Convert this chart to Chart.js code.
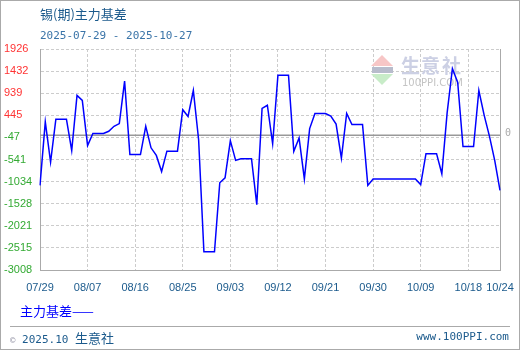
<!DOCTYPE html>
<html>
<head>
<meta charset="utf-8">
<script src="https://cdn.jsdelivr.net/npm/chart.js@4/dist/chart.umd.min.js"></script>
<style>
  html, body { margin: 0; padding: 0; background: #fff; }
  #wrap { position: relative; width: 520px; height: 350px; overflow: hidden; }
  #wrap canvas { position: absolute; left: 0; top: 0; }
  .txt { position: absolute; white-space: nowrap; }
  #title { left: 40px; top: 6px; font: 13px "Noto Sans CJK SC"; color: #1b5a8c; line-height: 16px; }
  #range { left: 40px; top: 29px; font: 11px "DejaVu Sans Mono"; color: #3a74a8; line-height: 13px; }
  #legend { left: 20px; top: 303px; font: 13px "Noto Sans CJK SC"; color: #0000ff; line-height: 16px; }
  #rule { position: absolute; left: 10px; top: 326px; width: 500px; height: 1px; background: #aaa; }
  #foot { left: 10px; top: 328px; font: 11px "DejaVu Sans Mono"; color: #1b5a8c; line-height: 14px; }
  #foot .cn { font: 13px "Noto Sans CJK SC"; }
  #foot .c { color: #99a; font-size: 9px; }
  #site { right: 11px; top: 330px; font: 11px "DejaVu Sans Mono"; color: #1b5a8c; line-height: 13px; }
  #frame { position: absolute; left: 0; top: 0; width: 518px; height: 348px; border: 1px solid #aaa; pointer-events: none; }
</style>
</head>
<body>
<div id="wrap">
  <canvas id="basisChart" width="520" height="350"></canvas>
  <div class="txt" id="title">锡(期)主力基差</div>
  <div class="txt" id="range">2025-07-29 - 2025-10-27</div>
  <div class="txt" id="legend">主力基差——</div>
  <div id="rule"></div>
  <div class="txt" id="foot"><span class="c">©</span> 2025.10 <span class="cn">生意社</span></div>
  <div class="txt" id="site">www.100PPI.com</div>
  <div id="frame"></div>
</div>
<script>
var dates = [
  '07/29','07/30','07/31','08/01','08/02','08/03','08/04','08/05','08/06','08/07',
  '08/08','08/09','08/10','08/11','08/12','08/13','08/14','08/15','08/16','08/17',
  '08/18','08/19','08/20','08/21','08/22','08/23','08/24','08/25','08/26','08/27',
  '08/28','08/29','08/30','08/31','09/01','09/02','09/03','09/04','09/05','09/06',
  '09/07','09/08','09/09','09/10','09/11','09/12','09/13','09/14','09/15','09/16',
  '09/17','09/18','09/19','09/20','09/21','09/22','09/23','09/24','09/25','09/26',
  '09/27','09/28','09/29','09/30','10/01','10/02','10/03','10/04','10/05','10/06',
  '10/07','10/08','10/09','10/10','10/11','10/12','10/13','10/14','10/15','10/16',
  '10/17','10/18','10/19','10/20','10/21','10/22','10/23','10/24'
];

var basis = [
  -1120, 300, -600, 360, 360, 360, -340, 890, 780, -230,
  40, 40, 40, 90, 200, 260, 1210, -430, -430, -430,
  200, -280, -450, -810, -355, -355, -355, 570, 420, 1000,
  -100, -2600, -2600, -2600, -1060, -950, -120, -560, -525, -525,
  -525, -1550, 600, 670, -190, 1340, 1340, 1340, -360, -60,
  -975, 150, 484, 484, 484, 430, 250, -510, 490, 240,
  240, 240, -1120, -975, -975, -975, -975, -975, -975, -975,
  -975, -975, -1100, -410, -410, -410, -860, 500, 1490, 1180,
  -250, -250, -250, 1000, 450, -20, -560, -1230
];

var yTickLabels = ['1926', '1432', '939', '445', '-47', '-541', '-1034', '-1528', '-2021', '-2515', '-3008'];
var xTickEvery = 9;

var decorations = {
  id: 'decorations',
  beforeDatasetsDraw: function (chart) {
    var c = chart.ctx;
    var area = chart.chartArea;
    var zeroY = chart.scales.y.getPixelForValue(0);
    c.save();

    // watermark
    c.fillStyle = '#f7c6c6';
    c.beginPath(); c.moveTo(382, 55); c.lineTo(393, 66); c.lineTo(371, 66); c.closePath(); c.fill();
    c.fillStyle = '#c8ecc8';
    c.beginPath(); c.moveTo(371, 74); c.lineTo(393, 74); c.lineTo(382, 85); c.closePath(); c.fill();
    c.fillStyle = '#b8bccc';
    c.fillRect(372, 67, 21, 6);
    c.fillStyle = '#ccd0e4';
    c.font = 'bold 19px "Noto Sans CJK SC"';
    c.textBaseline = 'alphabetic';
    c.fillText('生', 401, 73);
    c.fillText('意', 421, 73);
    c.fillText('社', 442, 73);
    c.fillStyle = '#c4c4c4';
    c.font = '10px "DejaVu Sans"';
    c.fillText('100PPI.COM', 402, 86);

    // zero line and right border
    c.strokeStyle = '#999';
    c.lineWidth = 1.5;
    c.beginPath(); c.moveTo(area.left, zeroY); c.lineTo(area.right, zeroY); c.stroke();
    c.lineWidth = 1;
    c.strokeStyle = '#aaa';
    c.beginPath(); c.moveTo(area.right + 0.5, area.top); c.lineTo(area.right + 0.5, area.bottom); c.stroke();
    c.fillStyle = '#aaa';
    c.font = '10px "DejaVu Sans Mono"';
    c.textBaseline = 'middle';
    c.fillText('0', area.right + 5, zeroY - 2);
    c.restore();
  }
};

new Chart(document.getElementById('basisChart').getContext('2d'), {
  type: 'line',
  data: {
    labels: dates,
    datasets: [{
      label: '主力基差',
      data: basis,
      borderColor: '#0000ff',
      borderWidth: 1.5,
      pointRadius: 0,
      tension: 0,
      fill: false
    }]
  },
  options: {
    responsive: false,
    animation: false,
    layout: { padding: { left: 4, top: 49, right: 20, bottom: 0 } },
    plugins: { legend: { display: false }, tooltip: { enabled: false } },
    scales: {
      x: {
        type: 'category',
        offset: false,
        afterFit: function (scale) {
          scale.height = 80;
          scale.paddingLeft = 0;
          scale.paddingRight = 0;
        },
        afterBuildTicks: function (scale) {
          var last = dates.length - 1;
          scale.ticks = scale.ticks.filter(function (t) { return t.value % xTickEvery === 0 || t.value === last; });
        },
        grid: { color: '#ccc', lineWidth: 1, drawTicks: false },
        border: { display: true, color: '#aaa', dash: [3, 2] },
        ticks: {
          autoSkip: false,
          maxRotation: 0,
          padding: 11,
          color: '#1b5a8c',
          font: { family: 'Liberation Sans', size: 11 },
          callback: function (value) { return dates[value]; }
        }
      },
      y: {
        min: Number(yTickLabels[yTickLabels.length - 1]),
        max: Number(yTickLabels[0]),
        afterFit: function (scale) { scale.width = 36; },
        afterBuildTicks: function (scale) {
          scale.ticks = yTickLabels.map(function (s) { return { value: Number(s) }; });
        },
        grid: { color: '#ccc', lineWidth: 1, drawTicks: false },
        border: { display: true, color: '#aaa', dash: [3, 2] },
        ticks: {
          crossAlign: 'far',
          padding: 0,
          font: { family: 'Liberation Sans', size: 11 },
          color: function (ctx) { return ctx.tick.value >= 0 ? '#ff3333' : '#33aa33'; },
          callback: function (value, index) { return yTickLabels[index]; }
        }
      }
    }
  },
  plugins: [decorations]
});
</script>
</body>
</html>
